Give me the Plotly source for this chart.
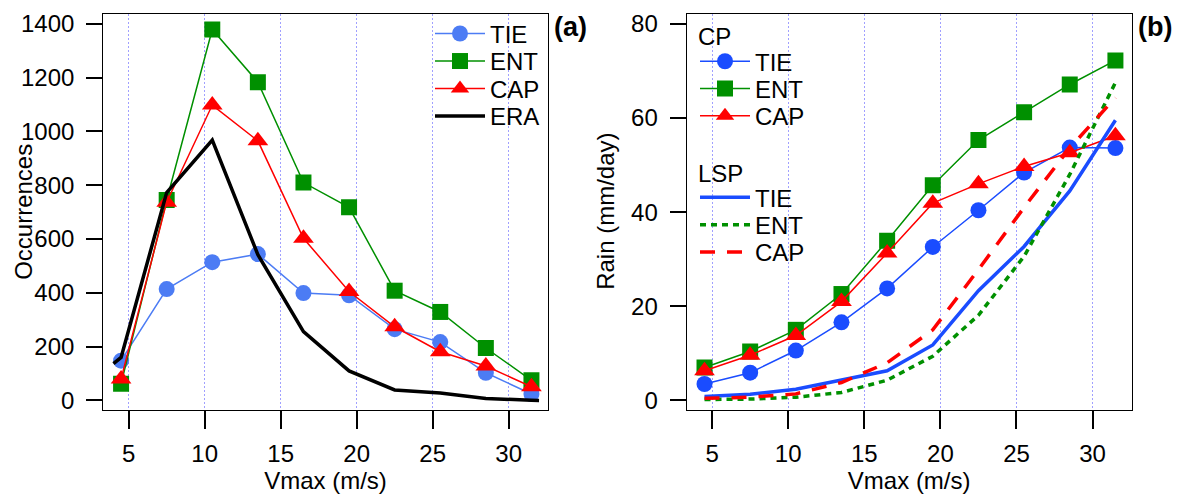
import plotly.graph_objects as go

# Bin centres of maximum wind speed (m/s)
vmax = [4.5, 7.5, 10.5, 13.5, 16.5, 19.5, 22.5, 25.5, 28.5, 31.5]

# (a) number of occurrences per Vmax bin
occ_tie = [148, 414, 514, 544, 399, 391, 265, 217, 103, 24]
occ_ent = [62, 745, 1379, 1183, 810, 718, 408, 329, 195, 75]
occ_cap = [80, 737, 1098, 965, 603, 405, 274, 181, 128, 51]
era_vmax = [4.0, 4.5, 7.5, 10.5, 13.5, 16.5, 19.5, 22.5, 25.5, 28.5, 31.5, 32.0]
occ_era = [137, 160, 773, 968, 542, 256, 110, 39, 28, 7, 1, 0]

# (b) convective (CP) and large-scale (LSP) rain, mm/day
cp_tie = [3.5, 5.9, 10.6, 16.6, 23.8, 32.6, 40.4, 48.4, 53.7, 53.6]
cp_ent = [7.0, 10.4, 15.0, 22.6, 33.9, 45.7, 55.3, 61.2, 67.1, 72.2]
cp_cap = [6.3, 9.6, 13.8, 21.0, 31.3, 41.9, 46.0, 49.7, 52.6, 56.2]
lsp_tie = [0.85, 1.3, 2.4, 4.3, 6.3, 11.8, 23.3, 32.7, 44.5, 59.5]
lsp_ent = [0.2, 0.3, 0.7, 1.7, 4.3, 9.4, 18.1, 30.6, 48.0, 67.5]
lsp_cap = [0.45, 0.7, 1.4, 3.8, 8.0, 15.0, 27.8, 41.0, 53.6, 64.3]

x_ticks = [5, 10, 15, 20, 25, 30]
occ_ticks = [0, 200, 400, 600, 800, 1000, 1200, 1400]
rain_ticks = [0, 20, 40, 60, 80]

BLUE_A = "#4c7cf4"
BLUE_B = "#1a4cff"
GREEN = "#009000"
RED = "#ff0000"
FONT = "Liberation Sans, Arial, sans-serif"
FS = 24
W, H = 1178, 499

fig = go.Figure()
legends = {}
LEG_OFF = 26  # legend top to first-entry centre, px


def add_legend(key, left_px, centre_px):
    legends[key] = dict(x=left_px / W, y=1 - (centre_px - LEG_OFF) / H,
                        xanchor="left", yanchor="top", bgcolor="rgba(0,0,0,0)",
                        borderwidth=0, font=dict(size=FS, color="black"),
                        itemwidth=50)


# ---- panel (a) ----
a_specs = [("TIE", vmax, occ_tie, BLUE_A, "circle", 16, 1.5),
           ("ENT", vmax, occ_ent, GREEN, "square", 16, 1.5),
           ("CAP", vmax, occ_cap, RED, "triangle-up", 18, 1.5),
           ("ERA", era_vmax, occ_era, "black", None, 0, 3.5)]
a_rows = [33.5, 61.5, 89.3, 117.3]
for i, (name, xs, ys, col, sym, sz, lw) in enumerate(a_specs):
    key = "legend" if i == 0 else f"legend{i + 1}"
    add_legend(key, 430, a_rows[i])
    kw = dict(mode="lines")
    if sym:
        kw = dict(mode="lines+markers", marker=dict(symbol=sym, size=sz, color=col))
    fig.add_trace(go.Scatter(x=xs, y=ys, name=name, line=dict(color=col, width=lw),
                             xaxis="x", yaxis="y", legend=key, **kw))

# ---- panel (b) ----
b_specs = [("TIE", cp_tie, BLUE_B, "circle", 16, 1.5, "solid"),
           ("ENT", cp_ent, GREEN, "square", 16, 1.5, "solid"),
           ("CAP", cp_cap, RED, "triangle-up", 18, 1.5, "solid"),
           ("TIE", lsp_tie, BLUE_B, None, 0, 3.5, "solid"),
           ("ENT", lsp_ent, GREEN, None, 0, 3.5, "6px,5px"),
           ("CAP", lsp_cap, RED, None, 0, 3.5, "15px,12px")]
b_rows = [61.7, 89.3, 117.0, 200.0, 228.0, 255.5]
for j, (name, ys, col, sym, sz, lw, dash) in enumerate(b_specs):
    key = f"legend{j + 5}"
    add_legend(key, 695, b_rows[j])
    kw = dict(mode="lines")
    if sym:
        kw = dict(mode="lines+markers", marker=dict(symbol=sym, size=sz, color=col))
    fig.add_trace(go.Scatter(x=vmax, y=ys, name=name,
                             line=dict(color=col, width=lw, dash=dash),
                             xaxis="x2", yaxis="y2", legend=key, **kw))

xcommon = dict(range=[3.33, 32.57], tickvals=x_ticks, ticks="outside", ticklen=18,
               tickwidth=1.5, tickcolor="black", showline=True, linecolor="black",
               linewidth=1.3, mirror=True, showgrid=True, gridcolor="#a0a0ff",
               gridwidth=1, griddash="2px,2px", zeroline=False,
               tickfont=dict(size=FS, color="black"), ticklabelstandoff=4,
               title=dict(text="Vmax (m/s)", font=dict(size=FS, color="black"), standoff=2))
ycommon = dict(ticks="outside", ticklen=16, tickwidth=1.5, tickcolor="black",
               showline=True, linecolor="black", linewidth=1.3, mirror=True,
               showgrid=False, zeroline=False, tickfont=dict(size=FS, color="black"),
               ticklabelstandoff=7)

ytop, ybot = 10, 412.5
ymid = 1 - (ytop + ybot) / 2 / H


def note(text, x_px, y, size=FS, angle=0, xanchor="center", yanchor="middle"):
    return dict(text=text, x=x_px / W, y=y, xref="paper", yref="paper",
                xanchor=xanchor, yanchor=yanchor, showarrow=False, textangle=angle,
                font=dict(size=size, color="black"))


fig.update_layout(
    width=W, height=H, autosize=False,
    margin=dict(l=0, r=0, t=0, b=0),
    paper_bgcolor="white", plot_bgcolor="white",
    font=dict(family=FONT, size=FS, color="black"),
    showlegend=True,
    xaxis=dict(domain=[103.3 / W, 547.7 / W], anchor="y", **xcommon),
    yaxis=dict(domain=[1 - ybot / H, 1 - ytop / H], anchor="x", range=[-35, 1437],
               tickvals=occ_ticks, **ycommon),
    xaxis2=dict(domain=[686.7 / W, 1131.7 / W], anchor="y2", **xcommon),
    yaxis2=dict(domain=[1 - ybot / H, 1 - ytop / H], anchor="x2", range=[-2, 82.1],
                tickvals=rain_ticks, **ycommon),
    annotations=[
        note("Occurrences", 24, ymid, angle=-90),
        note("Rain (mm/day)", 606, ymid, angle=-90),
        note("CP", 696, 1 - 33.5 / H, xanchor="left"),
        note("LSP", 696, 1 - 172 / H, xanchor="left"),
        note("<b>(a)</b>", 552, 1 - 6 / H, size=27, xanchor="left", yanchor="top"),
        note("<b>(b)</b>", 1136, 1 - 6 / H, size=27, xanchor="left", yanchor="top"),
    ],
    **legends,
)

fig.write_html("out.html")
